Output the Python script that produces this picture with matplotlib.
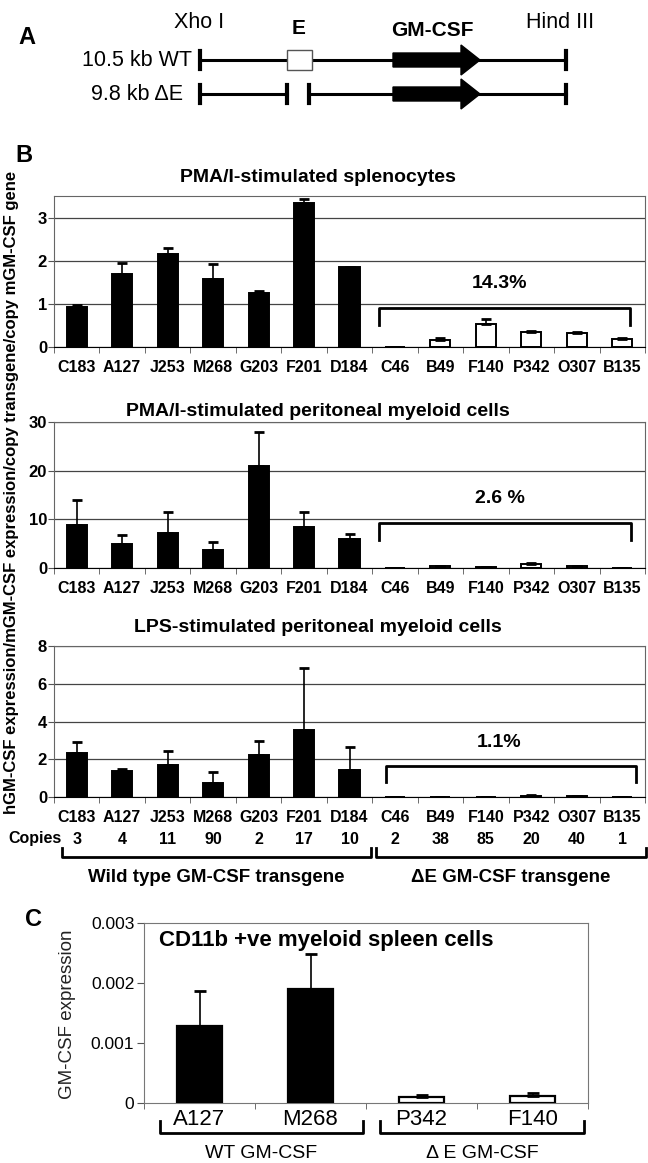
import numpy as np
import matplotlib
matplotlib.use('Agg')
import matplotlib.pyplot as plt
import matplotlib.transforms as mtransforms
from matplotlib.patches import Rectangle, Polygon

plt.rcParams['font.family'] = ['Liberation Sans', 'DejaVu Sans']

# transgenic lines (first 7 wild type, last 6 delta-E)
lines = ['C183', 'A127', 'J253', 'M268', 'G203', 'F201', 'D184',
         'C46', 'B49', 'F140', 'P342', 'O307', 'B135']
copies = [3, 4, 11, 90, 2, 17, 10, 2, 38, 85, 20, 40, 1]
n_wt = 7

# PMA/I-stimulated splenocytes
spl_vals = [0.92, 1.70, 2.15, 1.58, 1.25, 3.33, 1.85, 0.01, 0.17, 0.53, 0.35, 0.32, 0.18]
spl_errs = [0.05, 0.25, 0.15, 0.35, 0.05, 0.10, 0.01, 0.0, 0.03, 0.12, 0.02, 0.02, 0.02]
spl_pct = '14.3%'

# PMA/I-stimulated peritoneal myeloid cells
pma_vals = [8.8, 5.0, 7.2, 3.7, 21.0, 8.4, 5.9, 0.1, 0.4, 0.2, 0.8, 0.4, 0.1]
pma_errs = [5.2, 1.8, 4.4, 1.6, 7.0, 3.2, 1.0, 0.0, 0.1, 0.0, 0.3, 0.1, 0.0]
pma_pct = '2.6 %'

# LPS-stimulated peritoneal myeloid cells
lps_vals = [2.35, 1.38, 1.70, 0.75, 2.20, 3.55, 1.45, 0.01, 0.01, 0.01, 0.07, 0.06, 0.01]
lps_errs = [0.55, 0.12, 0.75, 0.60, 0.75, 3.30, 1.20, 0.0, 0.0, 0.0, 0.03, 0.01, 0.0]
lps_pct = '1.1%'

# CD11b +ve myeloid spleen cells
cd_lines = ['A127', 'M268', 'P342', 'F140']
cd_vals = [0.00129, 0.00190, 0.00010, 0.00011]
cd_errs = [0.00058, 0.00059, 0.00003, 0.00005]

W, H = 648, 1163
fig = plt.figure(figsize=(W / 100, H / 100), dpi=100)
# pixel coordinates measured from the top-left corner
px = mtransforms.Affine2D().scale(1 / W, -1 / H).translate(0, 1) + fig.transFigure


def rect(l, t, r, b):
    return [l / W, 1 - b / H, (r - l) / W, (b - t) / H]


def ptext(x, y, s, **kw):
    kw.setdefault('ha', 'center')
    kw.setdefault('va', 'center')
    fig.text(x, y, s, transform=px, **kw)


# ---------------- panel A: construct diagram ----------------
axa = fig.add_axes(rect(0, 0, W, 115))
axa.set_xlim(0, W)
axa.set_ylim(115, 0)
axa.axis('off')

ptext(27, 37, 'A', fontsize=17, fontweight='bold')
ptext(199, 22, 'Xho I', fontsize=15.5)
ptext(560, 23, 'Hind III', fontsize=15.5)
ptext(299, 28, 'E', fontsize=15, fontweight='bold')
ptext(432, 31, 'GM-CSF', fontsize=15, fontweight='bold')
ptext(192, 60, '10.5 kb WT', fontsize=15.5, ha='right')
ptext(183, 94, '9.8 kb ΔE', fontsize=15.5, ha='right')


def arrow(y):
    axa.add_patch(Polygon([[393, y - 7], [461, y - 7], [461, y - 15], [480, y],
                           [461, y + 15], [461, y + 7], [393, y + 7]],
                          closed=True, color='black', zorder=3))


y1 = 60
axa.plot([200, 566], [y1, y1], color='black', lw=2.2)
for xc in (200, 566):
    axa.plot([xc, xc], [y1 - 9, y1 + 9], color='black', lw=3)
axa.add_patch(Rectangle((287, y1 - 10), 25, 20, facecolor='white',
                        edgecolor='#555555', lw=1, zorder=3))
arrow(y1)

y2 = 94
axa.plot([200, 287], [y2, y2], color='black', lw=2.2)
axa.plot([309, 566], [y2, y2], color='black', lw=2.2)
for xc in (200, 287, 309, 566):
    axa.plot([xc, xc], [y2 - 9, y2 + 9], color='black', lw=3)
arrow(y2)

# ---------------- panel B: three bar charts ----------------
ptext(24, 155, 'B', fontsize=17, fontweight='bold')
ptext(12, 492, 'hGM-CSF expression/mGM-CSF expression/copy transgene/copy mGM-CSF gene',
      fontsize=12, fontweight='bold', rotation=90)

x = np.arange(len(lines))
bar_colors = ['black'] * n_wt + ['white'] * (len(lines) - n_wt)


def bar_panel(top, bottom, vals, errs, ymax, yticks, title, title_y,
              pct, pct_y, brk_h, brk_end, brk_x):
    ax = fig.add_axes(rect(54, top, 645, bottom))
    ax.bar(x, vals, width=0.44, color=bar_colors, edgecolor='black',
           linewidth=1.4, zorder=3)
    ax.errorbar(x, vals, yerr=[np.zeros(len(x)), errs], fmt='none', ecolor='black',
                elinewidth=1.2, capsize=3.5, capthick=2, zorder=4)
    ax.set_xlim(-0.5, len(x) - 0.5)
    ax.set_ylim(0, ymax)
    ax.set_yticks(yticks)
    ax.yaxis.grid(True, color='#444444', lw=0.9)
    ax.set_axisbelow(True)
    for s in ('top', 'right', 'left'):
        ax.spines[s].set_color('#666666')
    ax.spines['bottom'].set_color('black')
    ax.set_xticks(x, lines, fontweight='bold', fontsize=11.5)
    ax.set_xticks(np.arange(-0.5, len(x)), minor=True)
    ax.tick_params(axis='x', which='major', length=0, pad=9)
    ax.tick_params(axis='x', which='minor', length=4, color='#555555')
    ax.tick_params(axis='y', length=4, pad=1, labelsize=12, color='#555555')
    for lab in ax.get_yticklabels():
        lab.set_fontweight('bold')
    ptext(318, title_y, title, fontsize=14, fontweight='bold')
    x0, x1 = brk_x
    ax.plot([x0, x0, x1, x1], [brk_end, brk_h, brk_h, brk_end],
            color='black', lw=2, zorder=5)
    ax.text(9.3, pct_y, pct, ha='center', va='center', fontsize=14, fontweight='bold')
    return ax


bar_panel(196, 347, spl_vals, spl_errs, 3.5, [0, 1, 2, 3],
          'PMA/I-stimulated splenocytes', 177, spl_pct, 1.47, 0.91, 0.52, (6.65, 12.17))
bar_panel(422, 568, pma_vals, pma_errs, 30, [0, 10, 20, 30],
          'PMA/I-stimulated peritoneal myeloid cells', 412, pma_pct, 14.3, 9.3, 5.8, (6.65, 12.2))
ax3 = bar_panel(646, 797, lps_vals, lps_errs, 8, [0, 2, 4, 6, 8],
                'LPS-stimulated peritoneal myeloid cells', 628, lps_pct, 2.9, 1.62, 0.78, (6.8, 12.3))

# copies row and group brackets under the last chart
bx = mtransforms.blended_transform_factory(ax3.transData, px)
fig.text(62, 839, 'Copies', transform=px, ha='right', va='center',
         fontsize=11.5, fontweight='bold')
for xi, c in zip(x, copies):
    fig.text(xi, 839, str(c), transform=bx, ha='center', va='center',
             fontsize=11.5, fontweight='bold')
groups = [(-0.32, 6.47, 'Wild type GM-CSF transgene'),
          (6.58, 12.52, 'ΔE GM-CSF transgene')]
for g0, g1, name in groups:
    fig.add_artist(plt.Line2D([g0, g0, g1, g1], [848, 857, 857, 848], transform=bx,
                              color='black', lw=2))
    fig.text((g0 + g1) / 2, 877, name, transform=bx, ha='center', va='center',
             fontsize=13.5, fontweight='bold')

# ---------------- panel C ----------------
ptext(33, 920, 'C', fontsize=17, fontweight='bold')
axc = fig.add_axes(rect(144, 923, 588, 1103))
xc = np.arange(len(cd_lines))
axc.bar(xc, cd_vals, width=0.41, color=['black', 'black', 'white', 'white'],
        edgecolor='black', linewidth=1.6, zorder=3)
axc.errorbar(xc, cd_vals, yerr=[np.zeros(len(xc)), cd_errs], fmt='none',
             ecolor='black', elinewidth=1.2, capsize=4, capthick=2, zorder=4)
axc.set_xlim(-0.5, len(xc) - 0.5)
axc.set_ylim(0, 0.003)
axc.set_yticks([0, 0.001, 0.002, 0.003], ['0', '0.001', '0.002', '0.003'])
axc.set_xticks(xc, cd_lines, fontsize=16)
axc.set_xticks(np.arange(-0.5, len(xc)), minor=True)
axc.tick_params(axis='x', which='major', length=0, pad=4)
axc.tick_params(axis='x', which='minor', length=4, color='#555555')
axc.tick_params(axis='y', length=5, pad=2, labelsize=12.5, color='#555555')
for s in axc.spines.values():
    s.set_color('#777777')
axc.text(0.034, 0.905, 'CD11b +ve myeloid spleen cells', transform=axc.transAxes,
         fontsize=16, fontweight='bold', va='center')
ptext(68, 1014, 'GM-CSF expression', fontsize=13.5, rotation=90, color='#222222')

cx = mtransforms.blended_transform_factory(axc.transData, px)
for g0, g1, name in [(-0.36, 1.47, 'WT GM-CSF'), (1.63, 3.46, 'Δ E GM-CSF')]:
    fig.add_artist(plt.Line2D([g0, g0, g1, g1], [1121, 1133, 1133, 1121], transform=cx,
                              color='black', lw=2))
    fig.text((g0 + g1) / 2, 1153, name, transform=cx, ha='center', va='center',
             fontsize=14)

fig.savefig('out.png', dpi=100)
